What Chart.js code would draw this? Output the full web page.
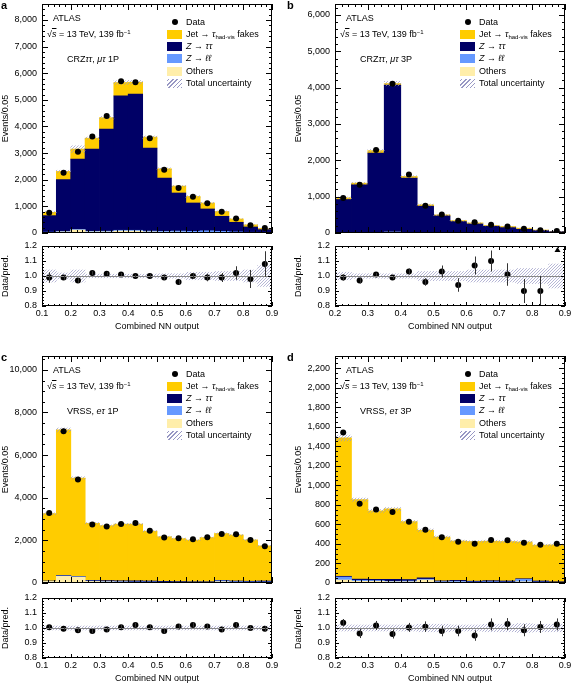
<!DOCTYPE html>
<html>
<head>
<meta charset="utf-8">
<script src="https://cdn.jsdelivr.net/npm/chart.js@4.4.1/dist/chart.umd.min.js"></script>
<style>
  body { margin: 0; background: #fff; width: 572px; height: 685px; position: relative; overflow: hidden;
         font-family: "Liberation Sans", Arial, Helvetica, sans-serif; color: #000; }
  canvas { position: absolute; }
  .txt { position: absolute; font-size: 9px; line-height: 9px; white-space: nowrap; }
  .letter { position: absolute; font-size: 11px; font-weight: bold; line-height: 11px; }
  .sw { position: absolute; width: 15px; height: 9px; }
  .dot { position: absolute; width: 6px; height: 6px; border-radius: 50%; background: #000; }
  sup { font-size: 6px; vertical-align: 3px; line-height: 0; }
  sub { font-size: 6px; vertical-align: -2px; line-height: 0; }
</style>
</head>
<body>
<script>
// bin centres (bin width 0.05)
const centersAC = [0.125, 0.175, 0.225, 0.275, 0.325, 0.375, 0.425, 0.475, 0.525, 0.575, 0.625, 0.675, 0.725, 0.775, 0.825, 0.875];
const centersBD = [0.225, 0.275, 0.325, 0.375, 0.425, 0.475, 0.525, 0.575, 0.625, 0.675, 0.725, 0.775, 0.825, 0.875];

const xTicksAC = [0.1, 0.2, 0.3, 0.4, 0.5, 0.6, 0.7, 0.8, 0.9];
const xTicksBD = [0.2, 0.3, 0.4, 0.5, 0.6, 0.7, 0.8, 0.9];
const yTicksA = [0, 1000, 2000, 3000, 4000, 5000, 6000, 7000, 8000];
const yTicksB = [0, 1000, 2000, 3000, 4000, 5000, 6000];
const yTicksC = [0, 2000, 4000, 6000, 8000, 10000];
const yTicksD = [0, 200, 400, 600, 800, 1000, 1200, 1400, 1600, 1800, 2000, 2200];
const ratioTicks = [0.8, 0.9, 1.0, 1.1, 1.2];

// a: CRZtautau, mu-tau 1P
const dataA = [760, 2265, 3050, 3620, 4390, 5700, 5665, 3560, 2380, 1690, 1365, 1120, 795, 540, 295, 185];
const fakesA = [125, 310, 375, 410, 430, 500, 450, 410, 350, 260, 245, 225, 180, 125, 80, 45];
const zttA = [620, 1945, 2645, 3090, 3835, 5050, 5110, 3120, 2000, 1430, 1065, 820, 565, 360, 200, 110];
const zllA = [10, 15, 20, 20, 25, 30, 30, 30, 30, 40, 40, 60, 50, 30, 20, 10];
const othersA = [20, 40, 110, 40, 40, 70, 70, 40, 30, 30, 20, 20, 10, 10, 5, 5];
const uncA = [0.04, 0.02, 0.04, 0.012, 0.012, 0.012, 0.012, 0.012, 0.015, 0.015, 0.025, 0.025, 0.03, 0.03, 0.04, 0.07];
const ratioA = [0.99, 0.99, 0.97, 1.02, 1.015, 1.01, 1.0, 1.0, 0.99, 0.96, 1.0, 0.99, 0.99, 1.02, 0.98, 1.08];
const ratioErrA = [0.035, 0.015, 0.015, 0.012, 0.01, 0.01, 0.01, 0.012, 0.015, 0.02, 0.02, 0.025, 0.03, 0.045, 0.06, 0.085];

// b: CRZtautau, mu-tau 3P
const dataB = [965, 1330, 2285, 4105, 1610, 750, 510, 335, 295, 225, 180, 118, 73, 58];
const fakesB = [46, 45, 65, 45, 45, 37, 27, 27, 28, 21, 31, 30, 16, 5];
const zttB = [910, 1315, 2185, 4040, 1495, 726, 460, 307, 242, 180, 143, 96, 62, 33];
const zllB = [5, 5, 5, 5, 5, 5, 5, 3, 3, 2, 2, 2, 1, 1];
const othersB = [5, 5, 10, 20, 10, 5, 5, 3, 3, 2, 2, 2, 1, 1];
const uncB = [0.025, 0.015, 0.015, 0.015, 0.015, 0.03, 0.03, 0.03, 0.04, 0.04, 0.04, 0.05, 0.05, 0.08];
const ratioB = [0.99, 0.97, 1.01, 0.99, 1.03, 0.96, 1.03, 0.94, 1.07, 1.1, 1.01, 0.9, 0.9, 1.45];
const ratioErrB = [0.02, 0.02, 0.01, 0.01, 0.02, 0.025, 0.04, 0.045, 0.06, 0.07, 0.075, 0.08, 0.1, 0.15];

// c: VRSS, e-tau 1P
const dataC = [3280, 7120, 4860, 2750, 2650, 2770, 2810, 2450, 2130, 2100, 2050, 2150, 2300, 2290, 2020, 1720];
const fakesC = [3160, 6830, 4615, 2680, 2580, 2660, 2660, 2340, 2095, 2015, 1955, 2075, 2200, 2160, 1940, 1650];
const zttC = [10, 20, 15, 30, 40, 40, 50, 40, 40, 30, 20, 20, 20, 30, 30, 40];
const zllC = [10, 20, 20, 20, 20, 20, 20, 20, 15, 15, 15, 15, 40, 30, 30, 30];
const othersC = [70, 310, 270, 70, 50, 40, 30, 30, 20, 20, 20, 20, 60, 30, 20, 20];
const uncC = [0.013, 0.013, 0.013, 0.013, 0.013, 0.013, 0.013, 0.013, 0.013, 0.013, 0.013, 0.013, 0.013, 0.013, 0.013, 0.013];
const ratioC = [1.005, 0.995, 0.985, 0.98, 0.99, 1.005, 1.02, 1.005, 0.98, 1.01, 1.02, 1.01, 0.99, 1.02, 1.0, 0.995];
const ratioErrC = [0.012, 0.01, 0.012, 0.015, 0.015, 0.015, 0.015, 0.015, 0.016, 0.016, 0.016, 0.016, 0.015, 0.015, 0.017, 0.018];

// d: VRSS, e-tau 3P
const dataD = [1542, 812, 754, 727, 628, 546, 468, 423, 403, 440, 437, 413, 392, 402];
const fakesD = [1417, 814, 701, 721, 593, 488, 449, 404, 407, 405, 404, 377, 368, 378];
const zttD = [8, 12, 12, 20, 15, 14, 8, 10, 8, 10, 10, 6, 10, 6];
const zllD = [30, 10, 8, 5, 8, 8, 5, 8, 5, 8, 5, 25, 5, 3];
const othersD = [30, 17, 17, 12, 12, 30, 8, 8, 5, 5, 5, 12, 5, 3];
const uncD = [0.02, 0.02, 0.02, 0.02, 0.02, 0.025, 0.025, 0.02, 0.02, 0.025, 0.025, 0.03, 0.025, 0.025];
const ratioD = [1.035, 0.963, 1.017, 0.96, 1.004, 1.009, 0.98, 0.98, 0.95, 1.024, 1.026, 0.985, 1.007, 1.024];
const ratioErrD = [0.025, 0.03, 0.03, 0.03, 0.03, 0.035, 0.035, 0.035, 0.035, 0.04, 0.04, 0.04, 0.04, 0.04];

const COLORS = { fakes: "#ffcc00", ztt: "#000066", zll: "#6699ff", others: "#ffeeaa" };
const HATCH_COLOR = "#9898c4";

Chart.defaults.font.family = '"Liberation Sans", Arial, Helvetica, sans-serif';
Chart.defaults.font.size = 9;
Chart.defaults.color = "#000";

const hatch = (() => {
    const c = document.createElement("canvas");
    c.width = 3;
    c.height = 3;
    const g = c.getContext("2d");
    g.strokeStyle = HATCH_COLOR;
    g.lineWidth = 0.7;
    g.beginPath();
    g.moveTo(0, 3); g.lineTo(3, 0);
    g.moveTo(-1, 1); g.lineTo(1, -1);
    g.moveTo(2, 4); g.lineTo(4, 2);
    g.stroke();
    return g.createPattern(c, "repeat");
})();

// frame, inward ticks, error bars, reference line
const frameTicks = {
    id: "frameTicks",
    afterDatasetsDraw(chart, args, o) {
        const { ctx, chartArea: a } = chart;
        const xs = chart.scales.x;
        const ys = chart.scales.y;
        ctx.save();

        if (o.refLine !== undefined) {
            const ry = Math.round(ys.getPixelForValue(o.refLine)) + 0.5;
            ctx.strokeStyle = "#888";
            ctx.lineWidth = 1;
            ctx.beginPath();
            ctx.moveTo(a.left, ry);
            ctx.lineTo(a.right, ry);
            ctx.stroke();
        }

        chart.data.datasets.forEach((ds) => {
            if (!ds.errors) {
                return;
            }
            ctx.strokeStyle = "#333";
            ctx.fillStyle = "#000";
            ctx.lineWidth = 1;
            ds.data.forEach((pt, i) => {
                const px = Math.round(xs.getPixelForValue(pt.x)) + 0.5;
                if (pt.y > ys.max) {
                    const ty = a.top + 1;
                    ctx.beginPath();
                    ctx.moveTo(px, ty);
                    ctx.lineTo(px - 3, ty + 5);
                    ctx.lineTo(px + 3, ty + 5);
                    ctx.closePath();
                    ctx.fill();
                    return;
                }
                const y1 = ys.getPixelForValue(Math.min(pt.y + ds.errors[i], ys.max));
                const y2 = ys.getPixelForValue(Math.max(pt.y - ds.errors[i], ys.min));
                ctx.beginPath();
                ctx.moveTo(px, y1);
                ctx.lineTo(px, y2);
                ctx.stroke();
            });
        });

        ctx.strokeStyle = "#000";
        ctx.lineWidth = 1;
        ctx.strokeRect(Math.round(a.left) + 0.5, Math.round(a.top) + 0.5,
            Math.round(a.width) - 1, Math.round(a.height) - 1);

        ctx.beginPath();
        const nx = Math.round((o.xMax - o.xMin) / o.xMinor);
        for (let i = 0; i <= nx; i++) {
            const v = o.xMin + i * o.xMinor;
            const r = v / o.xMajor;
            const len = Math.abs(r - Math.round(r)) < 1e-6 ? o.major : o.minor;
            const px = Math.round(xs.getPixelForValue(v)) + 0.5;
            ctx.moveTo(px, a.bottom);
            ctx.lineTo(px, a.bottom - len);
            ctx.moveTo(px, a.top);
            ctx.lineTo(px, a.top + len);
        }
        const ny = Math.floor((o.yMax - o.yMin) / o.yMinor + 1e-6);
        for (let i = 0; i <= ny; i++) {
            const v = o.yMin + i * o.yMinor;
            const r = (v - o.yMin) / o.yMajor;
            const len = Math.abs(r - Math.round(r)) < 1e-6 ? o.major : o.minor;
            const py = Math.round(ys.getPixelForValue(v)) + 0.5;
            ctx.moveTo(a.left, py);
            ctx.lineTo(a.left + len, py);
            ctx.moveTo(a.right, py);
            ctx.lineTo(a.right - len, py);
        }
        ctx.stroke();
        ctx.restore();
    },
};

const PLOT_W = 230;
const AXIS_W = 42;
const RIGHT_PAD = 10;
const EDGE = 11; // room for half a tick label plus its padding

function makeCanvas(left, top, height) {
    const canvas = document.createElement("canvas");
    canvas.width = AXIS_W + PLOT_W + RIGHT_PAD;
    canvas.height = height;
    canvas.style.left = left + "px";
    canvas.style.top = top + "px";
    document.body.appendChild(canvas);
    return canvas;
}

function drawMain(p) {
    const total = p.fakes.map((v, i) => v + p.ztt[i] + p.zll[i] + p.others[i]);
    const comp = (label, vals, color) => ({
        type: "bar",
        label,
        stack: "mc",
        order: 2,
        backgroundColor: color,
        borderWidth: 0,
        barPercentage: 1,
        categoryPercentage: 1,
        inflateAmount: 0.4,
        data: p.centers.map((x, i) => ({ x, y: vals[i] })),
    });

    const canvas = makeCanvas(p.plotLeft - AXIS_W, p.mainTop - EDGE, p.mainBottom - p.mainTop + 2 * EDGE);

    new Chart(canvas, {
        type: "bar",
        data: {
            datasets: [
                comp("Others", p.others, COLORS.others),
                comp("Z → ℓℓ", p.zll, COLORS.zll),
                comp("Z → ττ", p.ztt, COLORS.ztt),
                comp("Jet → τ fakes", p.fakes, COLORS.fakes),
                {
                    type: "bar",
                    label: "Total uncertainty",
                    stack: "unc",
                    grouped: false,
                    order: 1,
                    backgroundColor: hatch,
                    borderWidth: 0,
                    barPercentage: 1,
                    categoryPercentage: 1,
                    data: p.centers.map((x, i) => ({ x, y: [total[i] * (1 - p.unc[i]), total[i] * (1 + p.unc[i])] })),
                },
                {
                    type: "line",
                    label: "Data",
                    order: 0,
                    showLine: false,
                    pointRadius: 3,
                    pointBorderWidth: 0,
                    pointBackgroundColor: "#000",
                    data: p.centers.map((x, i) => ({ x, y: p.data[i] })),
                },
            ],
        },
        options: {
            responsive: false,
            animation: false,
            devicePixelRatio: 1,
            events: [],
            layout: { padding: { top: EDGE, bottom: EDGE, left: 0, right: RIGHT_PAD } },
            plugins: {
                legend: { display: false },
                tooltip: { enabled: false },
                frameTicks: {
                    xMin: p.xMin, xMax: p.xMax, xMajor: 0.1, xMinor: 0.02,
                    yMin: 0, yMax: p.yMax, yMajor: p.yMajor, yMinor: p.yMinor,
                    major: 6, minor: 3,
                },
            },
            scales: {
                x: {
                    type: "linear",
                    display: false,
                    min: p.xMin,
                    max: p.xMax,
                    offset: false,
                    stacked: true,
                    afterBuildTicks: (s) => { s.ticks = p.xTicks.map((value) => ({ value })); },
                },
                y: {
                    type: "linear",
                    min: 0,
                    max: p.yMax,
                    stacked: true,
                    grid: { display: false, drawTicks: false },
                    border: { display: false },
                    afterBuildTicks: (s) => { s.ticks = p.yTicks.map((value) => ({ value })); },
                    afterFit: (s) => { s.width = AXIS_W; },
                    ticks: { padding: 5, callback: (v) => v.toLocaleString("en-US") },
                    title: { display: true, text: "Events/0.05", padding: { top: 0, bottom: 0 } },
                },
            },
        },
        plugins: [frameTicks],
    });
}

function drawRatio(p) {
    const canvas = makeCanvas(p.plotLeft - AXIS_W, p.ratioTop - EDGE, p.ratioBottom - p.ratioTop + EDGE + 26 + 2);

    new Chart(canvas, {
        type: "bar",
        data: {
            datasets: [
                {
                    type: "bar",
                    label: "Total uncertainty",
                    order: 1,
                    backgroundColor: hatch,
                    borderWidth: 0,
                    barPercentage: 1,
                    categoryPercentage: 1,
                    data: p.centers.map((x, i) => ({ x, y: [1 - p.unc[i], 1 + p.unc[i]] })),
                },
                {
                    type: "line",
                    label: "Data/pred.",
                    order: 0,
                    showLine: false,
                    pointRadius: 3,
                    pointBorderWidth: 0,
                    pointBackgroundColor: "#000",
                    errors: p.ratioErr,
                    data: p.centers.map((x, i) => ({ x, y: p.ratio[i] })),
                },
            ],
        },
        options: {
            responsive: false,
            animation: false,
            devicePixelRatio: 1,
            events: [],
            layout: { padding: { top: EDGE, bottom: 2, left: 0, right: RIGHT_PAD } },
            plugins: {
                legend: { display: false },
                tooltip: { enabled: false },
                frameTicks: {
                    xMin: p.xMin, xMax: p.xMax, xMajor: 0.1, xMinor: 0.02,
                    yMin: 0.8, yMax: 1.2, yMajor: 0.1, yMinor: 0.02,
                    major: 4, minor: 2, refLine: 1.0,
                },
            },
            scales: {
                x: {
                    type: "linear",
                    min: p.xMin,
                    max: p.xMax,
                    offset: false,
                    grid: { display: false, drawTicks: false },
                    border: { display: false },
                    afterBuildTicks: (s) => { s.ticks = p.xTicks.map((value) => ({ value })); },
                    afterFit: (s) => { s.height = 26; },
                    ticks: { padding: 2, autoSkip: false, maxRotation: 0, minRotation: 0, callback: (v) => v.toFixed(1) },
                    title: { display: true, text: "Combined NN output", padding: { top: 0, bottom: 0 } },
                },
                y: {
                    type: "linear",
                    min: 0.8,
                    max: 1.2,
                    beginAtZero: false,
                    grid: { display: false, drawTicks: false },
                    border: { display: false },
                    afterBuildTicks: (s) => { s.ticks = ratioTicks.map((value) => ({ value })); },
                    afterFit: (s) => { s.width = AXIS_W; },
                    ticks: { padding: 5, callback: (v) => v.toFixed(1) },
                    title: { display: true, text: "Data/pred.", padding: { top: 0, bottom: 0 } },
                },
            },
        },
        plugins: [frameTicks],
    });
}

function addText(html, left, top, cls = "txt") {
    const d = document.createElement("div");
    d.className = cls;
    d.innerHTML = html;
    d.style.left = left + "px";
    d.style.top = top + "px";
    document.body.appendChild(d);
    return d;
}

function addBox(cls, left, top, background) {
    const d = document.createElement("div");
    d.className = cls;
    d.style.left = left + "px";
    d.style.top = top + "px";
    if (background) {
        d.style.background = background;
    }
    document.body.appendChild(d);
}

const legendRows = [
    { label: "Data", kind: "dot" },
    { label: "Jet → <i>τ</i><sub>had-vis</sub> fakes", kind: "box", color: COLORS.fakes },
    { label: "<i>Z</i> → <i>ττ</i>", kind: "box", color: COLORS.ztt },
    { label: "<i>Z</i> → <i>ℓℓ</i>", kind: "box", color: COLORS.zll },
    { label: "Others", kind: "box", color: COLORS.others },
    { label: "Total uncertainty", kind: "box", color: `repeating-linear-gradient(-45deg, ${HATCH_COLOR} 0 1px, #fff 1px 3px)` },
];

function drawLabels(p) {
    const L = p.plotLeft;
    const T = p.mainTop;
    addText(p.letter, p.letterX, T - 4, "letter");
    addText("ATLAS", L + 11, T + 10);
    addText("√<span style=\"text-decoration:overline\"><i>s</i></span> = 13 TeV, 139 fb<sup>−1</sup>", L + 5, T + 26);
    addText(p.region, L + 25, T + 51);
    legendRows.forEach((row, i) => {
        const cy = T + 18 + i * 12.3;
        if (row.kind === "dot") {
            addBox("dot", L + 129.5, cy - 3);
        } else {
            addBox("sw", L + 125, cy - 4.5, row.color);
        }
        addText(row.label, L + 144, cy - 4.5);
    });
}

const panels = [
    {
        letter: "a", letterX: 1, region: "CRZ<i>ττ</i>, <i>μτ</i> 1P",
        plotLeft: 42, mainTop: 4, mainBottom: 233, ratioTop: 246, ratioBottom: 306,
        xMin: 0.1, xMax: 0.9, xTicks: xTicksAC, centers: centersAC,
        yMax: 8600, yTicks: yTicksA, yMajor: 1000, yMinor: 200,
        data: dataA, fakes: fakesA, ztt: zttA, zll: zllA, others: othersA,
        unc: uncA, ratio: ratioA, ratioErr: ratioErrA,
    },
    {
        letter: "b", letterX: 287, region: "CRZ<i>ττ</i>, <i>μτ</i> 3P",
        plotLeft: 335, mainTop: 4, mainBottom: 233, ratioTop: 246, ratioBottom: 306,
        xMin: 0.2, xMax: 0.9, xTicks: xTicksBD, centers: centersBD,
        yMax: 6300, yTicks: yTicksB, yMajor: 1000, yMinor: 200,
        data: dataB, fakes: fakesB, ztt: zttB, zll: zllB, others: othersB,
        unc: uncB, ratio: ratioB, ratioErr: ratioErrB,
    },
    {
        letter: "c", letterX: 1, region: "VRSS, <i>eτ</i> 1P",
        plotLeft: 42, mainTop: 356, mainBottom: 583, ratioTop: 598, ratioBottom: 658,
        xMin: 0.1, xMax: 0.9, xTicks: xTicksAC, centers: centersAC,
        yMax: 10650, yTicks: yTicksC, yMajor: 2000, yMinor: 500,
        data: dataC, fakes: fakesC, ztt: zttC, zll: zllC, others: othersC,
        unc: uncC, ratio: ratioC, ratioErr: ratioErrC,
    },
    {
        letter: "d", letterX: 287, region: "VRSS, <i>eτ</i> 3P",
        plotLeft: 335, mainTop: 356, mainBottom: 583, ratioTop: 598, ratioBottom: 658,
        xMin: 0.2, xMax: 0.9, xTicks: xTicksBD, centers: centersBD,
        yMax: 2325, yTicks: yTicksD, yMajor: 200, yMinor: 50,
        data: dataD, fakes: fakesD, ztt: zttD, zll: zllD, others: othersD,
        unc: uncD, ratio: ratioD, ratioErr: ratioErrD,
    },
];

for (const p of panels) {
    drawMain(p);
    drawRatio(p);
    drawLabels(p);
}
</script>
</body>
</html>
